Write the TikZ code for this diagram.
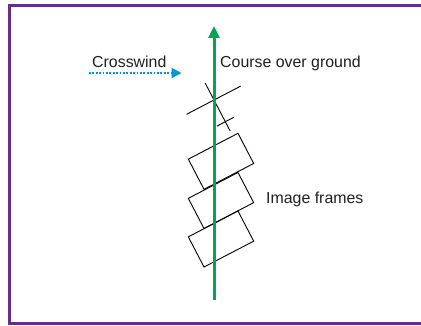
\documentclass[tikz,border=0pt]{standalone}
\usepackage{fontspec}
\setmainfont{Liberation Sans}
\usetikzlibrary{arrows.meta}

\definecolor{boxpurple}{RGB}{102,45,145}
\definecolor{coursegreen}{RGB}{0,166,81}
\definecolor{windblue}{RGB}{0,150,214}

\begin{document}
\begin{tikzpicture}[x=1pt, y=-1pt,
    label/.style={anchor=base west, inner sep=0pt, text=black!88,
      font=\fontsize{15.9}{18}\selectfont},
    imgframe/.style={draw, line width=0.9pt, minimum width=56pt,
      minimum height=34pt, inner sep=0pt},
    tick/.style={line width=0.9pt}]
    \def\tilt{27.5}
    \useasboundingbox (0,0) rectangle (421,326);
    \clip (0,0) rectangle (421,326);
    % outer border, open to the right
    \draw[boxpurple, line width=3pt] (9.5,5.5) rectangle (430,323.5);

    % image frames along the track
    \foreach \i/\y in {1/161.3, 2/200.5, 3/239}
    {
    \node[imgframe, rotate=\tilt] (F\i) at (221,\y) {};
    }

    % crosshair ahead of the frames
    \begin{scope}[shift={(214,100)}, rotate=\tilt]
    \coordinate (A1) at (-31,0);
    \coordinate (A2) at (30,0);
    \coordinate (B1) at (0,-19);
    \coordinate (B2) at (0,35);
    \coordinate (T1) at (-9.5,24.5);
    \coordinate (T2) at (9.5,24.5);
    \end{scope}
    \draw[tick] (A1) -- (A2);
    \draw[tick] (B1) -- (B2);
    \draw[tick] (T1) -- (T2);

    % course over ground
    \coordinate (G0) at (214,300);
    \coordinate (G1) at (214,26);
    \draw[coursegreen, line width=3pt, -{Triangle[length=12pt, width=11pt]}] (G0) -- (G1);

    % crosswind
    \coordinate (W0) at (89,73);
    \coordinate (W1) at (181.5,73);
    \draw[windblue, line width=2pt, dash pattern=on 1.8pt off 1.6pt,
      -{Triangle[length=10pt, width=10pt]}] (W0) -- (W1);

    \node[label] (wind) at (92,68) {Crosswind};
    \node[label] (course) at (220,68) {Course over ground};
    \node[label] (frames) at (266,204) {Image frames};
\end{tikzpicture}
\end{document}
